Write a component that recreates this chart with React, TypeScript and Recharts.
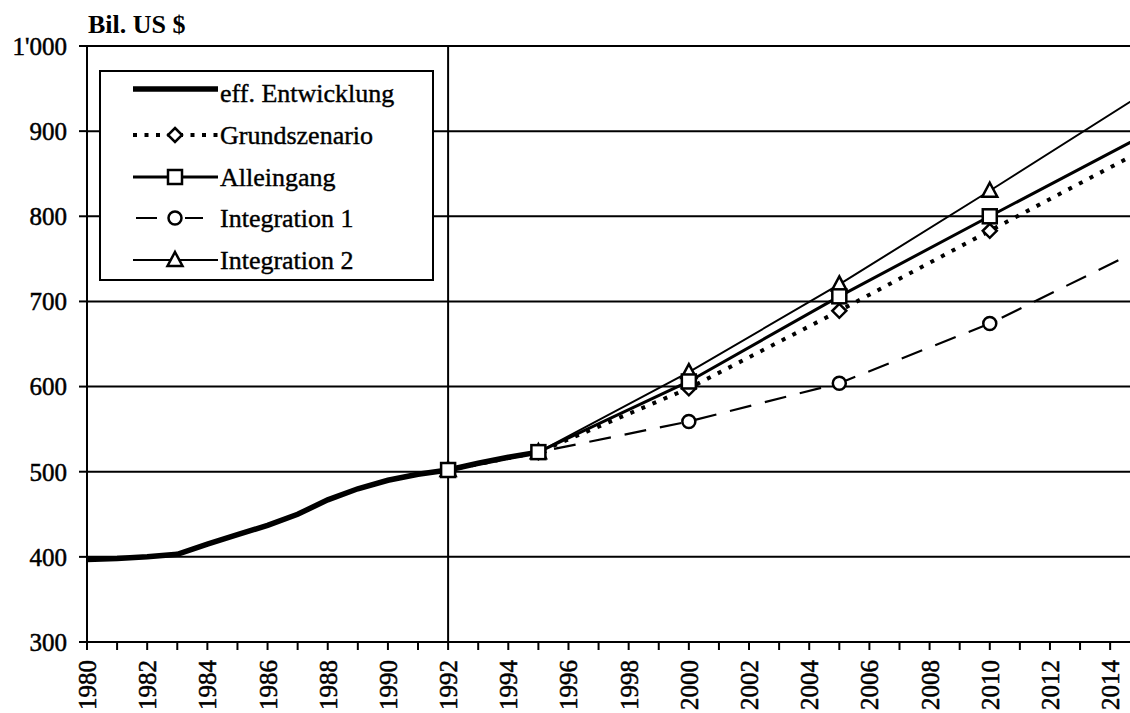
// Bruttoinlandprodukt 1980–2015: effektive Entwicklung und vier Szenarien (Bil. US $).
import { LineChart, Line, XAxis, YAxis, CartesianGrid, ReferenceLine } from 'recharts'

const FONT = "'Liberation Serif', 'Times New Roman', serif"

// effektive Entwicklung, jährlich
const effJahre = [1980, 1981, 1982, 1983, 1984, 1985, 1986, 1987, 1988, 1989, 1990, 1991, 1992, 1993, 1994, 1995]
const effWerte = [397, 398, 400, 403, 415, 426, 437, 450, 467, 480, 490, 497, 502, 510, 517, 523]

// Szenarien, Stützjahre
const szenarioJahre = [1992, 1995, 2000, 2005, 2010, 2015]
const grundszenario = [502, 523, 598, 689, 783, 876]
const alleingang = [502, 523, 606, 706, 800, 893]
const integration1 = [502, 523, 559, 604, 674, 761]
const integration2 = [502, 523, 617, 720, 830, 942]

const yTicks = [300, 400, 500, 600, 700, 800, 900, 1000]
const xTicks = [
  1980, 1981, 1982, 1983, 1984, 1985, 1986, 1987, 1988, 1989, 1990, 1991, 1992, 1993, 1994, 1995, 1996, 1997,
  1998, 1999, 2000, 2001, 2002, 2003, 2004, 2005, 2006, 2007, 2008, 2009, 2010, 2011, 2012, 2013, 2014,
]

type Shape = 'none' | 'diamond' | 'square' | 'circle' | 'triangle'

const effData = effJahre.map((jahr, i) => ({ jahr, wert: effWerte[i] }))
const zuReihe = (werte: number[]) => szenarioJahre.map((jahr, i) => ({ jahr, wert: werte[i] }))

// Reihenfolge = Legende
const serien = [
  { key: 'eff', name: 'eff. Entwicklung', data: effData, width: 5.5, dash: undefined, shape: 'none' as Shape, legDash: undefined },
  { key: 'grund', name: 'Grundszenario', data: zuReihe(grundszenario), width: 4, dash: '4 8', shape: 'diamond' as Shape, legDash: '4 7.5' },
  { key: 'allein', name: 'Alleingang', data: zuReihe(alleingang), width: 3, dash: undefined, shape: 'square' as Shape, legDash: undefined },
  { key: 'int1', name: 'Integration 1', data: zuReihe(integration1), width: 2.2, dash: '22 14', shape: 'circle' as Shape, legDash: '21 28 18 200' },
  { key: 'int2', name: 'Integration 2', data: zuReihe(integration2), width: 2, dash: undefined, shape: 'triangle' as Shape, legDash: undefined },
]
// Zeichenreihenfolge: Quadrat (Alleingang) zuoberst
const zeichenfolge = ['eff', 'int1', 'grund', 'int2', 'allein']

function Marker({ shape, cx, cy }: { shape: Shape; cx?: number; cy?: number }) {
  if (cx == null || cy == null || shape === 'none') return <g />
  const s = { fill: '#fff', stroke: '#000', strokeWidth: 2.5 }
  if (shape === 'diamond')
    return <polygon points={`${cx},${cy - 7} ${cx + 7},${cy} ${cx},${cy + 7} ${cx - 7},${cy}`} {...s} />
  if (shape === 'square') return <rect x={cx - 7} y={cy - 7} width={14} height={14} {...s} />
  if (shape === 'circle') return <circle cx={cx} cy={cy} r={6.5} {...s} />
  return <polygon points={`${cx},${cy - 8} ${cx + 7.5},${cy + 6} ${cx - 7.5},${cy + 6}`} {...s} />
}

function JahrTick(props: any) {
  const { x, y, payload } = props
  if (payload.value % 2 !== 0) return <g />
  return (
    <text
      x={x}
      y={y}
      transform={`rotate(-90 ${x} ${y})`}
      textAnchor="end"
      dy="0.36em"
      fontSize={25}
      fontFamily={FONT}
      fill="#000"
      stroke="#000"
      strokeWidth={0.5}
    >
      {payload.value}
    </text>
  )
}

const legendeZeilen = [89, 135, 177, 218, 260]

export default function App() {
  return (
    <div style={{ position: 'absolute', left: 0, top: 0, width: 1130, height: 713, background: '#fff' }}>
      <LineChart width={1130} height={713} margin={{ top: 46, right: 0, bottom: 0, left: 0 }}>
        <CartesianGrid vertical={false} stroke="#000" strokeWidth={2} />
        <XAxis
          type="number"
          dataKey="jahr"
          domain={[1980, 2014.66]}
          allowDataOverflow
          ticks={xTicks}
          interval={0}
          height={71}
          tickSize={8}
          tickMargin={10}
          stroke="#000"
          strokeWidth={2}
          tick={<JahrTick />}
        />
        <YAxis
          type="number"
          domain={[300, 1000]}
          ticks={yTicks}
          width={87}
          tickSize={8}
          tickMargin={12}
          stroke="#000"
          strokeWidth={2}
          tick={{ fill: '#000', fontSize: 25, fontFamily: FONT, stroke: '#000', strokeWidth: 0.5 }}
          tickFormatter={(v: number) => (v === 1000 ? "1'000" : String(v))}
        />
        <ReferenceLine x={1992} stroke="#000" strokeWidth={2} />
        {zeichenfolge.map((k) => {
          const s = serien.find((r) => r.key === k)!
          return (
            <Line
              key={s.key}
              data={s.data}
              dataKey="wert"
              name={s.name}
              type="linear"
              stroke="#000"
              strokeWidth={s.width}
              strokeDasharray={s.dash}
              dot={(p: any) => <Marker key={`${s.key}-${p.index}`} shape={s.shape} cx={p.cx} cy={p.cy} />}
              activeDot={false}
              isAnimationActive={false}
            />
          )
        })}
      </LineChart>

      <svg width={1130} height={713} style={{ position: 'absolute', left: 0, top: 0, pointerEvents: 'none' }}>
        <text x={88} y={33} fontSize={26} fontWeight="bold" fontFamily={FONT} fill="#000">
          Bil. US $
        </text>
        <rect x={100} y={71} width={333} height={209} fill="#fff" stroke="#000" strokeWidth={2} />
        {serien.map((s, i) => {
          const ly = legendeZeilen[i]
          return (
            <g key={s.key}>
              <line x1={s.key === 'int1' ? 136 : 133} x2={218} y1={ly} y2={ly} stroke="#000" strokeWidth={s.width} strokeDasharray={s.legDash} />
              <Marker shape={s.shape} cx={175} cy={ly} />
              <text x={220} y={ly + (i === 0 ? 13 : 8.5)} fontSize={26} fontFamily={FONT} fill="#000" stroke="#000" strokeWidth={0.4}>
                {s.name}
              </text>
            </g>
          )
        })}
      </svg>
    </div>
  )
}
